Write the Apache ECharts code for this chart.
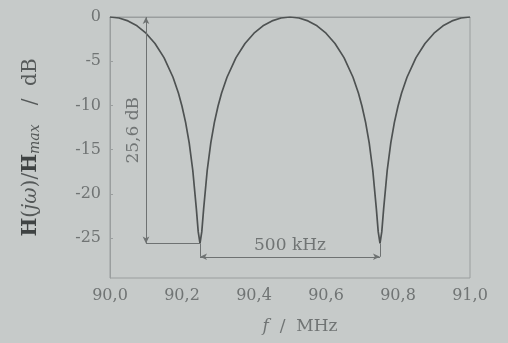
<!DOCTYPE html>
<html>
<head>
<meta charset="utf-8">
<script src="https://cdn.jsdelivr.net/npm/echarts@6/dist/echarts.min.js"></script>
<style>
html,body{margin:0;padding:0;background:#c6cac9;}
#c{width:508px;height:343px;}
</style>
</head>
<body>
<div id="c"></div>
<script>
// Frequency (MHz) and normalised magnitude (dB)
var freq = [90.000,90.025,90.050,90.075,90.100,90.125,90.150,90.175,90.190,90.200,90.210,90.220,90.230,90.240,90.245,90.250,90.255,90.260,90.270,90.280,90.290,90.300,90.310,90.325,90.350,90.375,90.400,90.425,90.450,90.475,90.500,
            90.525,90.550,90.575,90.600,90.625,90.650,90.675,90.690,90.700,90.710,90.720,90.730,90.740,90.745,90.750,90.755,90.760,90.770,90.780,90.790,90.800,90.810,90.825,90.850,90.875,90.900,90.925,90.950,90.975,91.000];
var gain = [0,-0.11,-0.44,-1.00,-1.83,-3.00,-4.59,-6.81,-8.60,-10.09,-11.91,-14.23,-17.35,-21.74,-24.26,-25.58,-24.26,-21.74,-17.35,-14.23,-11.91,-10.09,-8.60,-6.81,-4.59,-3.00,-1.83,-1.00,-0.44,-0.11,0,
            -0.11,-0.44,-1.00,-1.83,-3.00,-4.59,-6.81,-8.60,-10.09,-11.91,-14.23,-17.35,-21.74,-24.26,-25.58,-24.26,-21.74,-17.35,-14.23,-11.91,-10.09,-8.60,-6.81,-4.59,-3.00,-1.83,-1.00,-0.44,-0.11,0];
var yTicks = [0,-5,-10,-15,-20,-25];
var xTicks = [90.0,90.2,90.4,90.6,90.8,91.0];
// annotation values
var depthX = 90.1, depthTop = 0, depthBottom = -25.6, depthLabel = '25,6 dB';
var notchA = 90.25, notchB = 90.75, spacingY = -27.1, spacingLabel = '500 kHz';

var data = freq.map(function(f,i){return [f,gain[i]];});
var font = 'DejaVu Serif';
var txt = '#707474';
var axisCol = '#9a9e9e';
var annCol = '#6e7272';

var chart = echarts.init(document.getElementById('c'));
chart.setOption({
  backgroundColor:'#c6cac9',
  animation:false,
  grid:{left:110,right:38,top:17,bottom:65,show:true,borderColor:axisCol,borderWidth:1,backgroundColor:'transparent'},
  xAxis:{type:'value',min:90,max:91,
    name:'{i|f}  /  MHz',nameLocation:'middle',nameGap:40,
    nameTextStyle:{color:txt,fontFamily:font,fontSize:17,padding:[0,0,0,20],rich:{i:{fontStyle:'italic',fontFamily:font,fontSize:17,color:txt}}},
    axisLine:{lineStyle:{color:axisCol}},
    axisTick:{show:false},
    splitLine:{show:false},
    axisLabel:{customValues:xTicks,color:txt,fontFamily:font,fontSize:16,margin:10,
      formatter:function(v){return v.toFixed(1).replace('.',',');}}
  },
  yAxis:{type:'value',min:-29.5,max:0,
    name:'{b|H}({i|jω})/{b|H}{s|max}   /  dB',nameLocation:'middle',nameRotate:90,nameGap:68,
    nameTextStyle:{color:'#555959',fontFamily:font,fontSize:20,
      rich:{b:{fontWeight:'bold',fontFamily:font,fontSize:20,color:'#3f4343'},
            i:{fontStyle:'italic',fontFamily:font,fontSize:20,color:'#555959'},
            s:{fontStyle:'italic',fontFamily:font,fontSize:14,color:'#555959',verticalAlign:'bottom',padding:[9,0,0,0]}}},
    axisLine:{lineStyle:{color:axisCol}},
    axisTick:{customValues:yTicks,inside:true,length:3,lineStyle:{color:axisCol}},
    splitLine:{show:false},
    axisLabel:{customValues:yTicks,color:txt,fontFamily:font,fontSize:16,margin:9}
  },
  series:[{
    type:'line',data:data,showSymbol:false,smooth:false,
    lineStyle:{color:'#4e5252',width:1.7},
    markLine:{
      silent:true,symbol:'none',
      lineStyle:{color:annCol,type:'solid',width:1},
      label:{show:false},
      data:[
        [{coord:[depthX,depthBottom],symbol:'arrow',symbolSize:[5,7]},{coord:[depthX,depthTop],symbol:'arrow',symbolSize:[5,7],
          label:{show:true,position:'middle',formatter:depthLabel,color:txt,fontFamily:font,fontSize:17,distance:4}}],
        [{coord:[depthX,depthBottom]},{coord:[notchA,depthBottom]}],
        [{coord:[notchA,depthBottom]},{coord:[notchA,spacingY]}],
        [{coord:[notchB,depthBottom]},{coord:[notchB,spacingY]}],
        [{coord:[notchA,spacingY],symbol:'arrow',symbolSize:[5,7]},{coord:[notchB,spacingY],symbol:'arrow',symbolSize:[5,7],
          label:{show:true,position:'middle',formatter:spacingLabel,color:txt,fontFamily:font,fontSize:17,distance:3}}]
      ]
    }
  }]
});
</script>
</body>
</html>
